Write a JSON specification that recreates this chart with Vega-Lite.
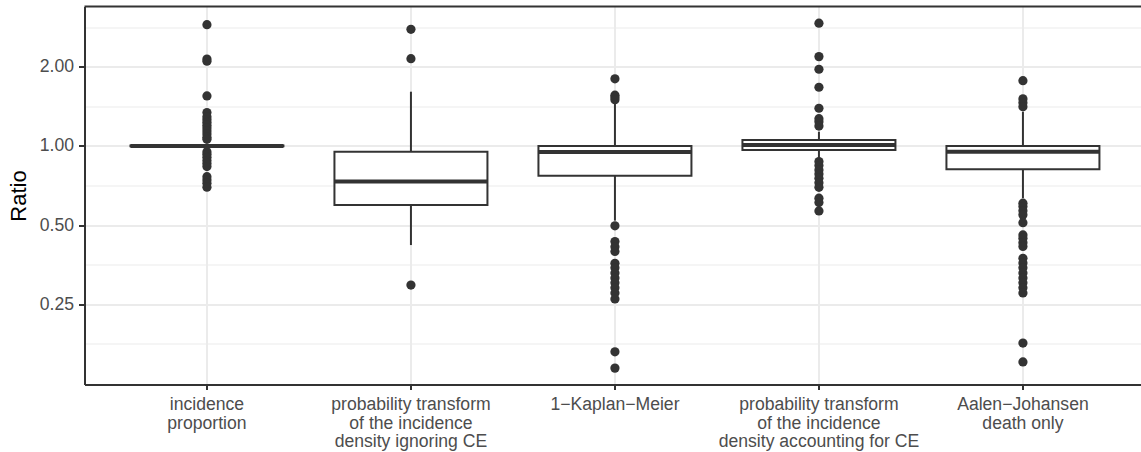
{
  "$schema": "https://vega.github.io/schema/vega-lite/v6.json",
  "width": 1056.5,
  "height": 378,
  "autosize": {"type": "none"},
  "padding": {"left": 84.5, "top": 6.5, "right": 0, "bottom": 67.5},
  "background": "white",
  "config": {"view": {"stroke": null}, "font": "Liberation Sans"},
  "datasets": {
    "stats": [
      {"method": "incidence\nproportion", "lower": 0.997, "q1": 0.997, "median": 1.0, "q3": 1.003, "upper": 1.003},
      {"method": "probability transform\nof the incidence\ndensity ignoring CE", "lower": 0.42, "q1": 0.596, "median": 0.732, "q3": 0.951, "upper": 1.608},
      {"method": "1−Kaplan−Meier", "lower": 0.52, "q1": 0.771, "median": 0.949, "q3": 1.0, "upper": 1.455},
      {"method": "probability transform\nof the incidence\ndensity accounting for CE", "lower": 0.885, "q1": 0.966, "median": 1.009, "q3": 1.054, "upper": 1.133},
      {"method": "Aalen−Johansen\ndeath only", "lower": 0.633, "q1": 0.816, "median": 0.951, "q3": 1.0, "upper": 1.35}
    ],
    "outliers": [
      {"method": "incidence\nproportion", "ratio": 2.89},
      {"method": "incidence\nproportion", "ratio": 2.14},
      {"method": "incidence\nproportion", "ratio": 2.1},
      {"method": "incidence\nproportion", "ratio": 1.55},
      {"method": "incidence\nproportion", "ratio": 1.34},
      {"method": "incidence\nproportion", "ratio": 1.29},
      {"method": "incidence\nproportion", "ratio": 1.26},
      {"method": "incidence\nproportion", "ratio": 1.23},
      {"method": "incidence\nproportion", "ratio": 1.2},
      {"method": "incidence\nproportion", "ratio": 1.17},
      {"method": "incidence\nproportion", "ratio": 1.14},
      {"method": "incidence\nproportion", "ratio": 1.11},
      {"method": "incidence\nproportion", "ratio": 1.08},
      {"method": "incidence\nproportion", "ratio": 1.06},
      {"method": "incidence\nproportion", "ratio": 0.951},
      {"method": "incidence\nproportion", "ratio": 0.93},
      {"method": "incidence\nproportion", "ratio": 0.905},
      {"method": "incidence\nproportion", "ratio": 0.88},
      {"method": "incidence\nproportion", "ratio": 0.858},
      {"method": "incidence\nproportion", "ratio": 0.835},
      {"method": "incidence\nproportion", "ratio": 0.764},
      {"method": "incidence\nproportion", "ratio": 0.743},
      {"method": "incidence\nproportion", "ratio": 0.722},
      {"method": "incidence\nproportion", "ratio": 0.697},
      {"method": "probability transform\nof the incidence\ndensity ignoring CE", "ratio": 2.777},
      {"method": "probability transform\nof the incidence\ndensity ignoring CE", "ratio": 2.147},
      {"method": "probability transform\nof the incidence\ndensity ignoring CE", "ratio": 0.296},
      {"method": "1−Kaplan−Meier", "ratio": 1.8},
      {"method": "1−Kaplan−Meier", "ratio": 1.56},
      {"method": "1−Kaplan−Meier", "ratio": 1.53},
      {"method": "1−Kaplan−Meier", "ratio": 1.5},
      {"method": "1−Kaplan−Meier", "ratio": 0.497},
      {"method": "1−Kaplan−Meier", "ratio": 0.433},
      {"method": "1−Kaplan−Meier", "ratio": 0.414},
      {"method": "1−Kaplan−Meier", "ratio": 0.397},
      {"method": "1−Kaplan−Meier", "ratio": 0.358},
      {"method": "1−Kaplan−Meier", "ratio": 0.344},
      {"method": "1−Kaplan−Meier", "ratio": 0.329},
      {"method": "1−Kaplan−Meier", "ratio": 0.315},
      {"method": "1−Kaplan−Meier", "ratio": 0.302},
      {"method": "1−Kaplan−Meier", "ratio": 0.289},
      {"method": "1−Kaplan−Meier", "ratio": 0.276},
      {"method": "1−Kaplan−Meier", "ratio": 0.262},
      {"method": "1−Kaplan−Meier", "ratio": 0.165},
      {"method": "1−Kaplan−Meier", "ratio": 0.143},
      {"method": "probability transform\nof the incidence\ndensity accounting for CE", "ratio": 2.93},
      {"method": "probability transform\nof the incidence\ndensity accounting for CE", "ratio": 2.186},
      {"method": "probability transform\nof the incidence\ndensity accounting for CE", "ratio": 1.957},
      {"method": "probability transform\nof the incidence\ndensity accounting for CE", "ratio": 1.672},
      {"method": "probability transform\nof the incidence\ndensity accounting for CE", "ratio": 1.391},
      {"method": "probability transform\nof the incidence\ndensity accounting for CE", "ratio": 1.27},
      {"method": "probability transform\nof the incidence\ndensity accounting for CE", "ratio": 1.237},
      {"method": "probability transform\nof the incidence\ndensity accounting for CE", "ratio": 1.19},
      {"method": "probability transform\nof the incidence\ndensity accounting for CE", "ratio": 0.872},
      {"method": "probability transform\nof the incidence\ndensity accounting for CE", "ratio": 0.842},
      {"method": "probability transform\nof the incidence\ndensity accounting for CE", "ratio": 0.81},
      {"method": "probability transform\nof the incidence\ndensity accounting for CE", "ratio": 0.783},
      {"method": "probability transform\nof the incidence\ndensity accounting for CE", "ratio": 0.754},
      {"method": "probability transform\nof the incidence\ndensity accounting for CE", "ratio": 0.725},
      {"method": "probability transform\nof the incidence\ndensity accounting for CE", "ratio": 0.696},
      {"method": "probability transform\nof the incidence\ndensity accounting for CE", "ratio": 0.633},
      {"method": "probability transform\nof the incidence\ndensity accounting for CE", "ratio": 0.609},
      {"method": "probability transform\nof the incidence\ndensity accounting for CE", "ratio": 0.566},
      {"method": "Aalen−Johansen\ndeath only", "ratio": 1.77},
      {"method": "Aalen−Johansen\ndeath only", "ratio": 1.51},
      {"method": "Aalen−Johansen\ndeath only", "ratio": 1.46},
      {"method": "Aalen−Johansen\ndeath only", "ratio": 1.41},
      {"method": "Aalen−Johansen\ndeath only", "ratio": 0.606},
      {"method": "Aalen−Johansen\ndeath only", "ratio": 0.588},
      {"method": "Aalen−Johansen\ndeath only", "ratio": 0.567},
      {"method": "Aalen−Johansen\ndeath only", "ratio": 0.547},
      {"method": "Aalen−Johansen\ndeath only", "ratio": 0.511},
      {"method": "Aalen−Johansen\ndeath only", "ratio": 0.459},
      {"method": "Aalen−Johansen\ndeath only", "ratio": 0.446},
      {"method": "Aalen−Johansen\ndeath only", "ratio": 0.429},
      {"method": "Aalen−Johansen\ndeath only", "ratio": 0.415},
      {"method": "Aalen−Johansen\ndeath only", "ratio": 0.374},
      {"method": "Aalen−Johansen\ndeath only", "ratio": 0.359},
      {"method": "Aalen−Johansen\ndeath only", "ratio": 0.344},
      {"method": "Aalen−Johansen\ndeath only", "ratio": 0.329},
      {"method": "Aalen−Johansen\ndeath only", "ratio": 0.315},
      {"method": "Aalen−Johansen\ndeath only", "ratio": 0.302},
      {"method": "Aalen−Johansen\ndeath only", "ratio": 0.289},
      {"method": "Aalen−Johansen\ndeath only", "ratio": 0.276},
      {"method": "Aalen−Johansen\ndeath only", "ratio": 0.178},
      {"method": "Aalen−Johansen\ndeath only", "ratio": 0.151}
    ]
  },
  "layer": [
    {
      "data": {"name": "outliers"},
      "mark": {"type": "point", "filled": true, "color": "#333333", "opacity": 1, "size": 85},
      "encoding": {
        "x": {
          "field": "method", "type": "nominal",
          "scale": {
            "type": "band",
            "domain": ["incidence\nproportion", "probability transform\nof the incidence\ndensity ignoring CE", "1−Kaplan−Meier", "probability transform\nof the incidence\ndensity accounting for CE", "Aalen−Johansen\ndeath only"],
            "paddingInner": 0, "paddingOuter": 0.0895, "align": 0.56
          },
          "axis": {
            "title": null,
            "labelExpr": "split(datum.value, '\\n')",
            "labelAngle": 0,
            "labelAlign": "center",
            "labelBaseline": "top",
            "labelLimit": 0,
            "labelFontSize": 17.6,
            "labelColor": "#4D4D4D",
            "labelPadding": 6,
            "labelLineHeight": 18.5,
            "bandPosition": 0.5,
            "grid": true,
            "gridColor": "#EBEBEB",
            "gridWidth": 2,
            "tickColor": "#333333",
            "tickWidth": 2,
            "tickSize": 5,
            "domainColor": "#333333",
            "domainWidth": 2
          }
        },
        "y": {
          "field": "ratio", "type": "quantitative", "title": "Ratio",
          "scale": {"type": "log", "base": 2, "domain": [0.1239, 3.39], "nice": false},
          "axis": {
            "values": [0.1768, 0.25, 0.3536, 0.5, 0.7071, 1, 1.4142, 2, 2.8284],
            "labelExpr": "(datum.value == 0.25 || datum.value == 0.5 || datum.value == 1 || datum.value == 2) ? format(datum.value, '.2f') : ''",
            "grid": true,
            "gridColor": "#EBEBEB",
            "gridWidth": {"condition": {"test": "datum.value == 0.25 || datum.value == 0.5 || datum.value == 1 || datum.value == 2", "value": 2}, "value": 1},
            "tickOpacity": {"condition": {"test": "datum.value == 0.25 || datum.value == 0.5 || datum.value == 1 || datum.value == 2", "value": 1}, "value": 0},
            "tickColor": "#333333",
            "tickWidth": 2,
            "tickSize": 6,
            "domainColor": "#333333",
            "domainWidth": 2,
            "labelFontSize": 17.6,
            "labelColor": "#4D4D4D",
            "labelPadding": 5,
            "labelOverlap": false,
            "titleFontSize": 22,
            "titleColor": "#000000",
            "titleFontWeight": "normal",
            "titleAngle": -90,
            "titleAlign": "center",
            "titleBaseline": "middle",
            "titleX": -66,
            "titleY": 189
          }
        }
      }
    },
    {
      "data": {"name": "stats"},
      "mark": {"type": "rule", "color": "#333333", "strokeWidth": 2},
      "encoding": {
        "x": {"field": "method", "type": "nominal"},
        "y": {"field": "q3", "type": "quantitative", "title": "Ratio"},
        "y2": {"field": "upper"}
      }
    },
    {
      "data": {"name": "stats"},
      "mark": {"type": "rule", "color": "#333333", "strokeWidth": 2},
      "encoding": {
        "x": {"field": "method", "type": "nominal"},
        "y": {"field": "lower", "type": "quantitative", "title": "Ratio"},
        "y2": {"field": "q1"}
      }
    },
    {
      "data": {"name": "stats"},
      "mark": {"type": "bar", "fill": "white", "stroke": "#333333", "strokeWidth": 2, "width": {"band": 0.75}},
      "encoding": {
        "x": {"field": "method", "type": "nominal"},
        "y": {"field": "q1", "type": "quantitative", "title": "Ratio"},
        "y2": {"field": "q3"}
      }
    },
    {
      "data": {"name": "stats"},
      "mark": {"type": "tick", "color": "#333333", "opacity": 1, "thickness": 4, "size": 153},
      "encoding": {
        "x": {"field": "method", "type": "nominal"},
        "y": {"field": "median", "type": "quantitative", "title": "Ratio"}
      }
    },
    {
      "data": {"values": [{}]},
      "mark": {"type": "rule", "color": "#333333", "strokeWidth": 2},
      "encoding": {
        "y": {"datum": 3.39, "type": "quantitative", "title": "Ratio"}
      }
    }
  ]
}
